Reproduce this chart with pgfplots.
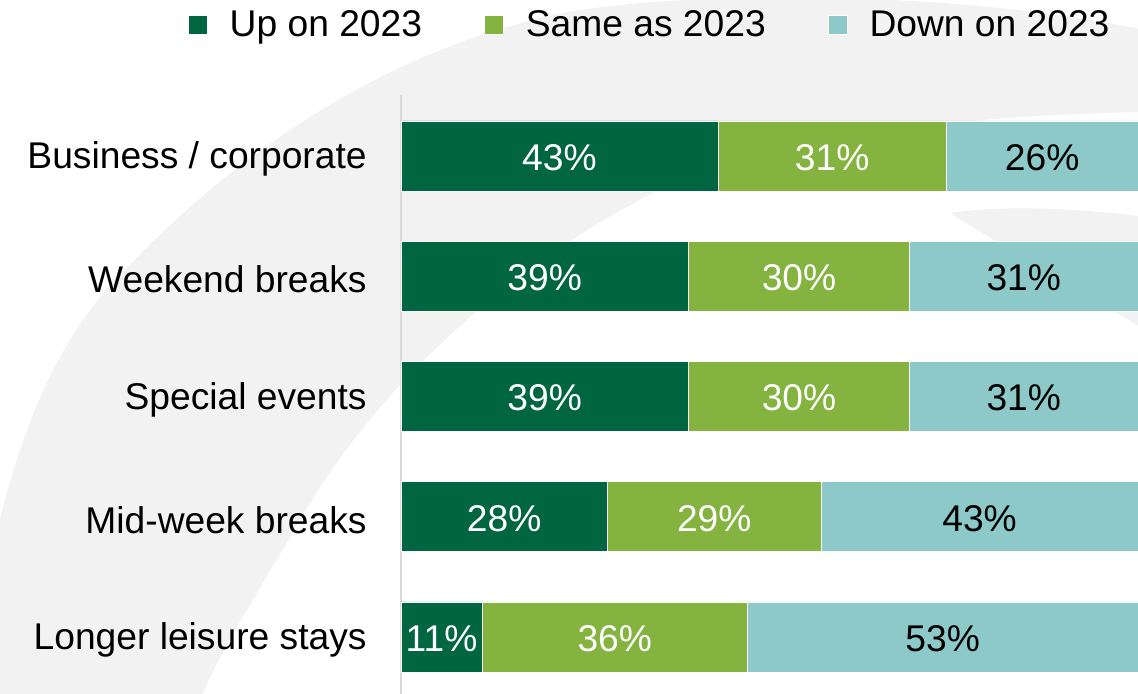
\documentclass[border=0pt]{standalone}
\usepackage{fontspec}
\setmainfont{Liberation Sans}
\usepackage{pgfplots}
\usepackage{pgfplotstable}
\pgfplotsset{compat=1.18}
\definecolor{cDark}{HTML}{006641}
\definecolor{cGreen}{HTML}{84B340}
\definecolor{cTeal}{HTML}{8CC9C8}
\definecolor{cBg}{HTML}{F2F2F2}
\definecolor{cAxis}{HTML}{D9D9D9}
\newcommand\bigf{\fontsize{18.6pt}{22pt}\selectfont}
\pgfplotstableread{
y up same down
4 43 31 26
3 39 30 31
2 39 30 31
1 28 29 43
0 11 36 53
}\data
\begin{document}
\begin{tikzpicture}
\path[use as bounding box] (0pt,0pt) rectangle (569pt,347pt);
\begin{scope}[shift={(0pt,347pt)}, x=0.5pt, y=-0.5pt]
\clip (0,0) rectangle (1138,694);
% decorative background swooshes
\fill[cBg] (-5,700) -- (-5,540) .. controls (20,430) and (60,330) .. (130,265)
  .. controls (230,160) and (380,50) .. (567,12)
  .. controls (700,-10) and (950,-10) .. (1145,30)
  -- (1145,112) .. controls (950,115) and (760,140) .. (653,193)
  .. controls (520,260) and (380,380) .. (300,520)
  .. controls (260,590) and (220,650) .. (200,700) -- cycle;
\fill[cBg] (950,213) .. controls (1000,205) and (1080,208) .. (1145,217)
  -- (1145,330) .. controls (1080,290) and (1000,245) .. (950,213) -- cycle;
\end{scope}
\begin{axis}[
  at={(200.5pt,0pt)}, anchor=south west,
  scale only axis, width=368.5pt, height=299.5pt,
  xbar stacked, bar width=35pt,
  xmin=0, xmax=100, ymin=-0.474, ymax=4.507,
  axis x line=none,
  axis y line*=left,
  y axis line style={draw=cAxis, line width=1pt, -},
  ytick={0,1,2,3,4},
  yticklabels={Longer leisure stays, Mid-week breaks, Special events, Weekend breaks, Business / corporate},
  major tick length=0pt,
  yticklabel style={font=\bigf, anchor=east, inner sep=0pt, xshift=-17pt, yshift=-1.5pt},
  legend columns=3,
  legend style={draw=none, fill=none, font=\bigf, at={(0.970,1.117)}, anchor=east,
    /tikz/every odd column/.append style={column sep=11pt},
    /tikz/every even column/.append style={column sep=31pt},
    nodes={inner sep=0pt}},
  legend image code/.code={\fill[#1] (0pt,-4.75pt) rectangle (9.5pt,4.75pt);},
  /pgf/number format/assume math mode=true,
  point meta=explicit,
  nodes near coords={\pgfmathprintnumber{\pgfplotspointmeta}\%},
  every node near coord/.append style={font=\bigf, anchor=center, yshift=-0.75pt},
]
\addplot[fill=cDark, draw=white, line width=0.4pt,
  every node near coord/.append style={text=white}]
  table[x=up, y=y, meta=up] {\data};
\addlegendentry{Up on 2023}
\addplot[fill=cGreen, draw=white, line width=0.4pt,
  every node near coord/.append style={text=white}]
  table[x=same, y=y, meta=same] {\data};
\addlegendentry{Same as 2023}
\addplot[fill=cTeal, draw=white, line width=0.4pt,
  every node near coord/.append style={text=black}]
  table[x=down, y=y, meta=down] {\data};
\addlegendentry{Down on 2023}
\end{axis}
\end{tikzpicture}
\end{document}
